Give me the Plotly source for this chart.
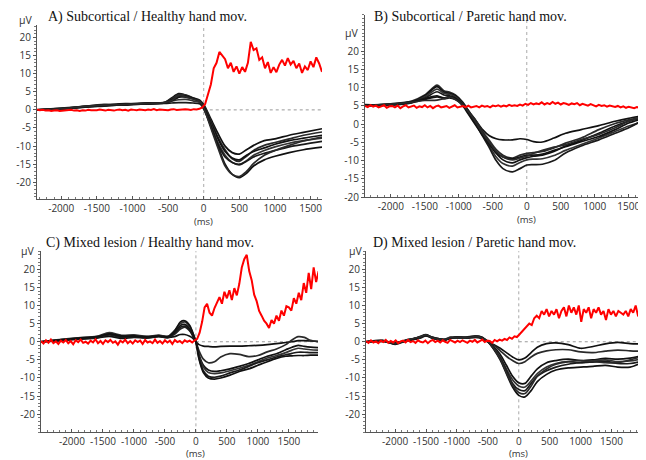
import plotly.graph_objects as go

# ---------------- data ----------------
x_tick_vals = [-2000, -1500, -1000, -500, 0, 500, 1000, 1500]
x_tick_text = ["-2000", "-1500", "-1000", "-500", "0", "500", "1000", "1500"]
y_tick_vals = [-20, -15, -10, -5, 0, 5, 10, 15, 20]
y_tick_text = ["-20", "-15", "-10", "-5", "0", "5", "10", "15", "20"]
titles = ["A) Subcortical / Healthy hand mov.", "B) Subcortical / Paretic hand mov.",
          "C) Mixed lesion / Healthy hand mov.", "D) Mixed lesion / Paretic hand mov."]

# Panel A
a_t = [-2340, -2000, -1700, -1400, -1100, -800, -550, -450, -350, -250, -150, -50, 0,
       100, 200, 300, 400, 500, 600, 700, 850, 1000, 1200, 1400, 1660]
a_black = [
    [0, 0.3, 0.8, 1.3, 1.6, 1.8, 2.0, 3.3, 4.5, 4.0, 3.2, 2.4, 1.5, -2.5, -6.5, -10, -11.8, -12.2, -11.0, -9.8, -8.5, -8.0, -7.0, -6.2, -5.2],
    [0, 0.2, 0.9, 1.5, 1.4, 1.9, 2.1, 3.0, 4.2, 4.1, 3.3, 2.6, 1.2, -3, -7.5, -11, -13.5, -14.2, -12.8, -11.2, -9.8, -9.0, -8.0, -7.0, -6.1],
    [0, 0.4, 0.7, 1.2, 1.7, 1.6, 1.9, 2.8, 3.6, 3.5, 3.0, 2.2, 0.8, -3.5, -8, -11.5, -13.3, -13.8, -12.5, -11.5, -10.5, -9.5, -8.5, -7.8, -7.0],
    [0, 0.3, 1.0, 1.0, 1.5, 1.8, 2.0, 2.4, 2.8, 2.9, 2.5, 2.0, 0.5, -4, -9, -12.5, -14.5, -15.2, -14, -12.5, -11.2, -10.2, -9.2, -8.5, -7.8],
    [0, 0.5, 0.9, 1.4, 1.3, 1.7, 1.8, 1.9, 2.0, 2.0, 1.9, 1.6, 0.2, -4.5, -9.5, -13, -14.5, -15.0, -14.2, -13.0, -12.0, -11.2, -10.2, -9.5, -8.7],
    [0, 0.2, 0.8, 1.1, 1.6, 1.9, 1.9, 2.5, 3.5, 3.8, 3.2, 2.5, 0.8, -4.5, -10, -15, -17.8, -18.7, -17.5, -15.5, -13.8, -12.8, -11.8, -11, -10.3],
    [0, 0.3, 0.9, 1.3, 1.5, 1.8, 2.0, 2.6, 3.9, 3.6, 3.0, 2.3, 0.6, -5, -10.5, -15.5, -17.8, -18.4, -17, -14.8, -12.5, -11.2, -9.8, -8.6, -7.5],
]
a_red_start = -2340
a_red_step = 40
a_red = [0.1, -0.1, 0.0, -0.2, -0.1, -0.3, -0.2, -0.1, -0.3, -0.2,
         -0.1, -0.2, 0.0, -0.2, -0.1, -0.3, -0.1, -0.2, 0.0, -0.1,
         -0.2, -0.1, 0.1, -0.1, -0.2, 0.0, -0.1, -0.2, 0.0, 0.1,
         -0.1, 0.0, -0.2, 0.1, 0.0, -0.1, 0.1, 0.0, -0.1, 0.1,
         0.0, 0.2, -0.1, 0.1, 0.0, 0.1, -0.1, 0.1, 0.2, 0.0,
         0.1, 0.0, 0.2, 0.1, 0.0, 0.2, 0.1,
         0.3, 0.7, 1.6, 4.2, 7.0, 11.5, 13.0, 16.0, 15.0, 14.0,
         11.5, 13.0, 10.5, 12.0, 10.0, 11.8, 10.5, 13.0, 18.8, 16.5,
         17.0, 13.8, 14.5, 11.5, 13.2, 10.2, 11.8, 10.4, 12.5, 13.8,
         12.2, 14.3, 12.5, 13.5, 11.5, 12.8, 10.2, 12.0, 11.0, 13.4,
         11.8, 14.5, 12.8, 10.5]

# Panel B
b_t = [-2380, -2000, -1700, -1500, -1320, -1220, -1140, -1050, -940, -850, -750, -650, -550,
       -450, -350, -210, -100, 0, 100, 230, 400, 570, 800, 1060, 1300, 1500, 1710]
b_black = [
    [5, 5.3, 6, 7, 7.8, 7.0, 7.2, 6.8, 5.5, 3.5, 1.0, -1.5, -3.2, -4.0, -4.3, -4.3, -4.0, -4.2, -4.8, -4.9, -3.8, -2.5, -1.5, -0.4, 0.8, 1.6, 2.3],
    [5, 5.4, 6.3, 8.0, 10.7, 9.2, 8.8, 8.0, 6.0, 3.5, 1.0, -2.0, -4.5, -7, -8.5, -9.3, -8.5, -8.0, -7.8, -7.5, -6.5, -5.2, -3.8, -1.5, 0.2, 1.2, 2.0],
    [5.2, 5.5, 6.0, 7.8, 10.3, 8.8, 8.5, 7.8, 5.8, 3.2, 0.5, -2.5, -5.2, -8, -9.8, -10.6, -9.8, -9.2, -8.8, -8.5, -7.5, -6.0, -4.5, -2.5, -0.5, 0.8, 1.8],
    [5.3, 5.2, 5.8, 7.5, 9.6, 8.5, 8.2, 7.5, 5.5, 3.0, 0.2, -3.0, -6.0, -9.0, -10.8, -11.5, -10.5, -9.8, -9.6, -9.5, -8.6, -7.2, -5.6, -3.8, -2.0, -0.5, 0.7],
    [5, 5.6, 6.2, 7.2, 8.9, 8.0, 7.8, 7.2, 5.3, 2.8, 0, -3.3, -6.5, -10, -12.2, -13.1, -12.2, -11.2, -11.1, -11.0, -10.0, -7.9, -6.0, -4.3, -2.5, -1.0, 1.2],
    [5.4, 5.3, 5.9, 6.8, 7.5, 7.2, 7.6, 7.0, 5.0, 2.5, -0.3, -3.0, -5.5, -7.8, -9.0, -9.5, -9.0, -8.5, -8.5, -8.2, -7.2, -6.2, -4.8, -3.4, -1.5, 0.3, 1.5],
    [5.1, 5.5, 6.0, 6.5, 6.6, 7.0, 7.4, 6.8, 5.2, 3.2, 0.5, -2.5, -5.0, -7.5, -9.0, -9.8, -9.3, -8.8, -8.0, -7.2, -6.3, -5.6, -4.2, -2.8, -1.0, 0.8, 2.1],
]
b_red_start = -2380
b_red_step = 40
b_red = [5.0, 4.7, 5.2, 4.8, 5.1, 4.6, 4.9, 5.2, 4.5, 4.9,
         5.0, 4.6, 5.1, 4.4, 4.9, 5.2, 4.6, 4.8, 5.1, 4.5,
         4.9, 4.7, 5.2, 4.6, 5.0, 4.4, 4.9, 5.1, 4.6, 4.8,
         5.0, 4.5, 4.9, 5.2, 4.6, 4.8, 5.0, 4.7, 5.1, 4.6,
         4.9, 5.0, 4.6, 5.1, 4.8, 5.0, 4.6, 5.1, 4.9, 5.2,
         4.8, 5.1, 4.9, 5.3, 5.0, 5.2, 5.0,
         5.4, 5.1, 5.6, 5.3, 5.8, 5.4, 5.7, 5.5, 6.0, 5.4,
         5.8, 5.5, 6.1, 5.6, 5.9, 5.4, 5.8, 5.6, 5.3, 5.7,
         5.5, 5.8, 5.2, 5.6, 5.4, 5.1, 5.5, 5.2, 4.9, 5.3,
         5.0, 5.2, 4.8, 5.1, 4.9, 4.7, 5.0, 4.6, 4.9, 4.5,
         4.8, 4.6, 4.4, 4.7, 4.5, 4.6]

# Panel C
c_t = [-2500, -2200, -1900, -1600, -1400, -1200, -1000, -800, -600, -450, -350, -250, -180,
       -100, -40, 0, 50, 120, 200, 300, 400, 550, 700, 850, 1000, 1150, 1300, 1450, 1550,
       1650, 1750, 1850, 1970]
c_black = [
    [0, 0.3, 0.8, 1.0, 1.5, 0.9, 1.2, 1.0, 1.4, 1.2, 1.4, 2.0, 2.0, 1.5, 0.8, 0, -0.8, -1.2, -1.3, -1.4, -1.3, -1.2, -1.2, -1.1, -1.0, -0.8, -0.5, -0.2, 0, 0.3, 0.3, 0.2, 0.1],
    [0, 0.5, 1.0, 1.2, 2.0, 1.3, 1.5, 1.2, 1.7, 1.4, 2.0, 3.5, 4.0, 3.0, 1.5, 0, -2.5, -4.8, -5.8, -5.5, -4.2, -3.3, -3.5, -4.1, -3.8, -2.8, -2.0, -0.8, 0.5, 1.4, 1.2, 0.4, 0],
    [0, 0.4, 0.9, 1.3, 2.3, 1.5, 1.7, 1.3, 1.6, 1.3, 2.5, 4.5, 4.8, 3.6, 1.5, 0, -3.5, -6.5, -7.8, -8.2, -8.0, -7.5, -6.8, -6.0, -5.0, -4.0, -3.3, -2.2, -1.5, -1.0, -1.3, -1.5, -1.6],
    [0, 0.6, 1.1, 1.5, 2.5, 1.8, 1.9, 1.5, 1.8, 1.5, 3.0, 5.0, 5.5, 4.2, 2.0, 0, -4.0, -7.0, -8.5, -8.8, -8.6, -8.0, -7.3, -6.5, -5.5, -4.5, -3.8, -3.0, -2.3, -1.8, -2.0, -2.2, -2.3],
    [0, 0.3, 0.7, 1.1, 1.9, 1.2, 1.4, 1.1, 1.5, 1.1, 2.2, 4.0, 4.3, 3.2, 1.2, 0, -4.5, -8.0, -9.5, -9.8, -9.5, -8.6, -7.8, -6.8, -5.8, -5.0, -4.2, -3.6, -3.2, -2.9, -2.9, -3.0, -3.0],
    [0, 0.5, 1.0, 1.4, 2.2, 1.6, 1.6, 1.4, 1.6, 1.4, 2.8, 5.5, 5.8, 4.5, 2.0, 0, -4.8, -8.5, -10.0, -10.3, -10.0, -9.2, -8.2, -7.5, -6.5, -5.5, -4.6, -4.0, -3.9, -3.8, -3.8, -3.7, -3.7],
]
c_red_start = -2500
c_red_step = 40
c_red = [0.2, -0.5, 0.4, -0.3, 0.6, -0.4, 0.1, -0.6, 0.3, -0.2,
         0.5, -0.4, 0.2, -0.7, 0.4, -0.1, 0.6, -0.3, 0.0, -0.5,
         0.3, -0.2, 0.7, -0.4, 0.2, -0.6, 0.4, -0.1, 0.5, -0.3,
         0.1, -0.8, 0.3, -0.2, 0.6, -0.4, 0.2, -0.5, 0.4, -0.1,
         0.3, -0.6, 0.5, -0.2, 0.1, -0.4, 0.6, -0.3, 0.2, -0.5,
         0.4, -0.2, 0.3, -0.6, 0.5, -0.1, 0.2, -0.4, 0.4, 0.0,
         0.3, -0.2, 0.4,
         0.8, 2.5, 5.5, 9.5, 10.5, 8.0, 7.2, 9.3, 10.8, 12.3,
         10.5, 13.8, 12.0, 14.2, 11.5, 14.8, 12.8, 16.0, 20.5, 22.8,
         24.0, 19.5, 17.0, 13.0, 11.2, 8.5, 7.2, 5.8, 5.0, 3.8,
         6.0, 5.0, 7.2, 5.8, 8.6, 7.2, 9.8, 9.5, 8.6, 12.0,
         10.5, 13.5, 11.5, 16.2, 13.5, 19.0, 14.5, 20.5, 16.5, 19.5]

# Panel D
d_t = [-2470, -2200, -2000, -1800, -1600, -1500, -1400, -1200, -1100, -1000, -850, -700, -600,
       -500, -400, -300, -200, -100, 0, 100, 200, 300, 450, 600, 800, 1000, 1200, 1400, 1600,
       1800, 1960]
d_black = [
    [0, 0.1, -0.3, 0.3, 1.0, 1.6, 1.0, 0.5, 1.0, 1.2, 1.0, 1.3, 1.0, 0, -0.8, -1.8, -3.0, -4.2, -5.0, -4.5, -3.0, -1.5, -0.5, -0.3, -0.8, -1.8, -1.3, -0.6, -0.2, -0.5, -0.6],
    [0, 0.3, -0.6, 0.5, 1.2, 1.8, 1.2, 0.6, 1.2, 1.0, 1.2, 1.5, 1.2, 0, -1.0, -2.5, -4.0, -5.2, -6.0, -5.5, -4.2, -3.2, -2.5, -2.2, -2.2, -2.8, -3.0, -2.6, -2.3, -2.5, -2.6],
    [0, 0.2, -0.4, 0.4, 1.3, 1.7, 1.1, 0.4, 1.1, 1.3, 1.1, 1.4, 1.1, 0, -1.5, -3.5, -6.5, -9.5, -11.3, -11.5, -9.5, -7.5, -5.8, -5.2, -4.8, -5.2, -5.0, -4.6, -4.8, -4.5, -4.0],
    [0, 0.4, -0.5, 0.6, 1.1, 1.9, 1.3, 0.7, 1.3, 1.1, 1.3, 1.6, 1.3, 0, -1.8, -4.2, -7.5, -10.5, -12.2, -12.5, -10.8, -8.8, -7.0, -6.0, -5.5, -5.8, -5.3, -5.0, -5.5, -5.3, -4.8],
    [0, 0.1, -0.2, 0.2, 1.4, 2.0, 1.0, 0.5, 0.9, 1.2, 1.0, 1.2, 0.9, 0, -2.0, -4.5, -8.0, -11.5, -13.2, -13.5, -11.5, -9.5, -8.0, -7.0, -6.2, -5.8, -5.6, -5.4, -6.0, -6.0, -5.5],
    [0, 0.3, -0.7, 0.4, 1.2, 1.8, 1.2, 0.6, 1.0, 1.3, 1.2, 1.5, 1.2, 0, -2.2, -5.0, -8.8, -12.5, -14.8, -15.2, -13.5, -11.0, -9.0, -7.8, -7.2, -7.0, -6.8, -6.5, -7.0, -7.0, -6.0],
    [0, 0.2, -0.5, 0.5, 1.3, 1.9, 1.1, 0.6, 1.1, 1.2, 1.1, 1.4, 1.1, 0, -2.0, -4.8, -8.5, -12.0, -14.0, -14.3, -12.2, -9.5, -7.5, -6.2, -5.5, -5.2, -5.5, -5.8, -5.8, -5.0, -4.2],
]
d_red_start = -2470
d_red_step = 40
d_red = [0.2, -0.3, 0.4, -0.2, 0.1, -0.4, 0.3, -0.1, 0.5, -0.3,
         0.2, -0.2, 0.4, -0.4, 0.1, 0.3, -0.2, 0.5, -0.1, 0.2,
         -0.3, 0.4, 0.0, -0.2, 0.3, -0.4, 0.2, 0.5, -0.1, 0.3,
         -0.2, 0.4, 0.0, -0.3, 0.5, 0.1, -0.2, 0.3, -0.1, 0.4,
         0.1, -0.3, 0.3, 0.0, 0.5, -0.2, 0.2, 0.6, -0.1, 0.3,
         0.2, -0.3, 0.5, 0.1, 0.6, 0.3, 0.8, 0.5, 1.2, 0.8,
         1.5, 1.3, 2.0, 2.8, 3.5, 4.2, 5.0, 4.6, 6.5, 7.2,
         6.5, 8.5, 7.5, 9.0, 7.0, 8.5, 7.5, 9.0, 6.5, 8.5,
         9.5, 7.0, 10.0, 8.0, 9.5, 7.5, 10.0, 5.5, 9.0, 8.0,
         9.5, 6.5, 9.0, 8.0, 9.5, 7.5, 8.5, 6.0, 9.0, 7.5,
         8.5, 7.0, 8.5, 8.0, 7.5, 8.5, 7.0, 9.0, 8.0, 10.0,
         7.0, 8.5]

# ---------------- layout / styles ----------------
# The page body adds an 8 px margin, so the figure is 638x452 and
# positions below are given in window pixels and converted.
FIG_W, FIG_H, OFF = 638, 452, 8


def px_x(X):
    return (X - OFF) / FIG_W


def px_y(Y):
    return 1 - (Y - OFF) / FIG_H


panels = [
    dict(t=a_t, black=a_black, red=a_red, x0=a_red_start, dx=a_red_step,
         xr=[-2340, 1660], yr=[-24.6, 23.5], box=(37, 322, 25, 202),
         hline=True, title_px=(47, 17), uv_px=(25, 20), ms_py=225),
    dict(t=b_t, black=b_black, red=b_red, x0=b_red_start, dx=b_red_step,
         xr=[-2380, 1710], yr=[-20, 30], box=(365, 643, 15, 200),
         hline=False, title_px=(373, 17), uv_px=(351, 33), ms_py=223),
    dict(t=c_t, black=c_black, red=c_red, x0=c_red_start, dx=c_red_step,
         xr=[-2500, 1970], yr=[-25, 25], box=(41, 318, 255, 439),
         hline=True, title_px=(45, 247), uv_px=(27, 255), ms_py=461),
    dict(t=d_t, black=d_black, red=d_red, x0=d_red_start, dx=d_red_step,
         xr=[-2470, 1960], yr=[-25, 25], box=(366, 640, 255, 439),
         hline=True, title_px=(372, 247), uv_px=(355, 255), ms_py=461),
]

tick_font = dict(family="Open Sans, DejaVu Sans, sans-serif", size=10, color="#333333")
black_colors = ["#111111", "#2a2a2a", "#111111", "#333333", "#1a1a1a", "#111111", "#2a2a2a"]

fig = go.Figure()
layout = dict(width=FIG_W, height=FIG_H, margin=dict(l=0, r=0, t=0, b=0),
              paper_bgcolor="white", plot_bgcolor="white", showlegend=False)
shapes, annotations = [], []

for i, p in enumerate(panels):
    sfx = "" if i == 0 else str(i + 1)
    xa, ya = "x" + sfx, "y" + sfx
    L, R, T, B = p["box"]
    for j, yv in enumerate(p["black"]):
        fig.add_trace(go.Scatter(x=p["t"], y=yv, mode="lines", xaxis=xa, yaxis=ya,
                                 line=dict(color=black_colors[j % len(black_colors)], width=1.7,
                                           shape="spline", smoothing=0.8),
                                 hoverinfo="skip"))
    fig.add_trace(go.Scatter(y=p["red"], x0=p["x0"], dx=p["dx"], mode="lines", xaxis=xa, yaxis=ya,
                             line=dict(color="#ff0000", width=2), hoverinfo="skip"))
    layout["xaxis" + sfx] = dict(domain=[px_x(L), px_x(R)], range=p["xr"], anchor=ya, showgrid=False,
                                 zeroline=False, showline=True, linecolor="#555555", linewidth=1,
                                 tickvals=x_tick_vals, ticktext=x_tick_text, tickangle=0,
                                 ticks="inside", ticklen=3, tickcolor="#555555",
                                 minor=dict(dtick=100, ticks="inside", ticklen=2, tickcolor="#777777"),
                                 tickfont=tick_font)
    layout["yaxis" + sfx] = dict(domain=[px_y(B), px_y(T)], range=p["yr"], anchor=xa, showgrid=False,
                                 zeroline=False, showline=True, linecolor="#555555", linewidth=1,
                                 tickvals=y_tick_vals, ticktext=y_tick_text,
                                 ticks="outside", ticklen=3, tickcolor="#555555",
                                 minor=dict(dtick=1, ticks="outside", ticklen=2, tickcolor="#777777"),
                                 tickfont=tick_font)
    shapes.append(dict(type="line", xref=xa, yref=ya + " domain", x0=0, x1=0, y0=0, y1=1,
                       line=dict(color="#aaaaaa", width=1, dash="dot"), layer="below"))
    if p["hline"]:
        shapes.append(dict(type="line", xref=xa, yref=ya, x0=0, x1=p["xr"][1], y0=0, y1=0,
                           line=dict(color="#999999", width=1, dash="dot"), layer="below"))
    annotations.append(dict(text=titles[i], xref="paper", yref="paper", x=px_x(p["title_px"][0]),
                            y=px_y(p["title_px"][1]), xanchor="left", yanchor="middle", showarrow=False,
                            borderpad=0,
                            font=dict(family="Liberation Serif, Times New Roman, serif", size=14,
                                      color="#111111")))
    annotations.append(dict(text="µV", xref="paper", yref="paper", x=px_x(p["uv_px"][0]),
                            y=px_y(p["uv_px"][1]), xanchor="center", yanchor="middle",
                            showarrow=False, font=dict(family="Open Sans, DejaVu Sans, sans-serif",
                                                       size=10.5, color="#333333")))
    annotations.append(dict(text="(ms)", xref=xa, yref="paper", x=0, y=px_y(p["ms_py"]),
                            xanchor="center", yanchor="middle", showarrow=False,
                            font=dict(family="Open Sans, DejaVu Sans, sans-serif", size=9.5,
                                      color="#333333")))

layout["shapes"] = shapes
layout["annotations"] = annotations
fig.update_layout(**layout)
fig.write_html("out.html")
